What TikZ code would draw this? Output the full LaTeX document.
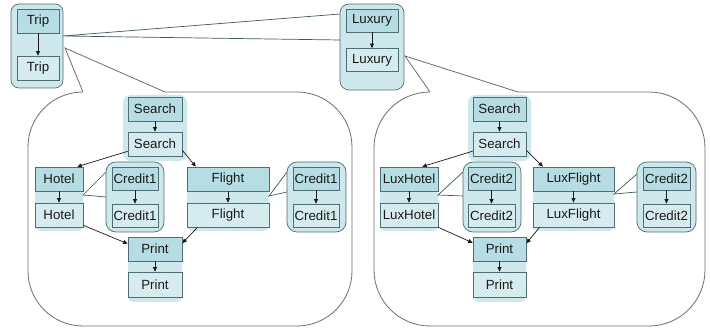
\documentclass[tikz,border=0pt]{standalone}
\usepackage{fontspec}
\setmainfont{Liberation Sans}
\usetikzlibrary{arrows.meta,patterns}

\definecolor{topfill}{HTML}{B6DDE3}
\definecolor{lowfill}{HTML}{E2F2F5}
\definecolor{grpfill}{HTML}{D6EDF1}
\definecolor{hatch}{HTML}{BEDFE5}
\definecolor{boxline}{HTML}{4F6E73}
\definecolor{bigline}{HTML}{6E6E6E}
\definecolor{ink}{HTML}{1A1A1A}

% pointer of a large callout: white wedge that opens the border, then its two sides
% #1 tip, #2 and #3 the two ends on the top edge
\newcommand\bigpointer[3]{%
  \path[fill=white] (#1) -- (#2) -- ([shift={(0,2)}]#2) -- ([shift={(0,2)}]#3) -- (#3) -- cycle;
  \draw[ptrline] (#2) -- (#1) -- (#3);
}

\begin{document}
\begin{tikzpicture}[x=1pt,y=-1pt,
  every node/.style={font=\fontsize{13.3}{15}\selectfont, text=ink, inner sep=0pt},
  sz/.style 2 args={minimum width=#1pt, minimum height=#2pt},
  topbox/.style={draw=boxline, line width=0.7pt, fill=topfill},
  lowbox/.style={draw=boxline, line width=0.7pt, preaction={fill=lowfill},
                 pattern=north east lines, pattern color=hatch},
  shade/.style={preaction={fill=grpfill}, pattern=north east lines, pattern color=hatch},
  grp/.style={shade, draw=boxline, line width=0.7pt, rounded corners=#1},
  bigbox/.style={draw=bigline, line width=0.8pt, fill=white, rounded corners=#1},
  ptrline/.style={draw=bigline, line width=0.8pt},
  thinptr/.style={draw=boxline!80!black, line width=0.7pt},
  arr/.style={-{Triangle[length=4.5pt,width=4pt]}, line width=0.7pt, draw=ink},
]
\useasboundingbox (0,0) rectangle (710,331);

% ---- the two expanded workflows ----
\draw[bigbox=55pt] (28,92) rectangle (352,326);
\bigpointer{65,48}{83,92}{165,92}
\draw[bigbox=56pt] (374,92) rectangle (705,326);
\bigpointer{405,56}{430,92}{518,92}

% ---- Luxury refines Trip ----
\draw[thinptr] (340,14) -- (63,36) -- (340,40);
\draw[grp=9pt] (340,4) rectangle (404,90);
\draw[grp=8pt] (11,4) rectangle (63,88);

\node[topbox, sz={42}{24}] (trA) at (38,21) {Trip};
\node[lowbox, sz={42}{24}] (trB) at (38,68) {Trip};
\draw[arr] (trA) -- (trB);

\node[topbox, sz={52}{23}] (lxA) at (372,20.5) {Luxury};
\node[lowbox, sz={52}{23}] (lxB) at (372,60) {Luxury};
\draw[arr] (lxA) -- (lxB);

% ---- left workflow: shaded groups ----
\path[shade, rounded corners=8pt] (123,95) rectangle (187,161);
\path[shade, rounded corners=6pt] (35,179) rectangle (83,231);
\path[shade, rounded corners=6pt] (187,179) rectangle (269,231);
\path[shade, rounded corners=6pt] (128,249) rectangle (182,302);
\draw[thinptr] (106,172) -- (83,195) -- (106,197);
\draw[grp=10pt] (106,162) rectangle (164,232);
\draw[thinptr] (287,172) -- (269,196) -- (287,192);
\draw[grp=10pt] (287,162) rectangle (346,232);

\node[topbox, sz={54}{24}] (sLa) at (155,109) {Search};
\node[lowbox, sz={54}{24}] (sLb) at (155,144) {Search};
\node[topbox, sz={48}{24}] (hLa) at (59,179) {Hotel};
\node[lowbox, sz={48}{24}] (hLb) at (59,215) {Hotel};
\node[topbox, sz={46}{23}] (cLa) at (135,178.5) {Credit1};
\node[lowbox, sz={46}{23}] (cLb) at (135,215.5) {Credit1};
\node[topbox, sz={82}{24}] (fLa) at (228,179) {Flight};
\node[lowbox, sz={82}{24}] (fLb) at (228,215) {Flight};
\node[topbox, sz={46}{23}] (gLa) at (316,178.5) {Credit1};
\node[lowbox, sz={46}{23}] (gLb) at (316,215.5) {Credit1};
\node[topbox, sz={54}{24}] (pLa) at (155,249) {Print};
\node[lowbox, sz={54}{25}] (pLb) at (155,284.5) {Print};

\foreach \a/\b in {sLa/sLb, hLa/hLb, cLa/cLb, fLa/fLb, gLa/gLb, pLa/pLb}
  \draw[arr] (\a) -- (\b);
\draw[arr] (sLb.195) -- (hLa.34);
\draw[arr] (sLb.347) -- (fLa.159);
\draw[arr] (hLb.337) -- (pLa.169);
\draw[arr] (fLb.202) -- (pLa.12);

% ---- right workflow: shaded groups ----
\path[shade, rounded corners=8pt] (468,95) rectangle (531,161);
\path[shade, rounded corners=6pt] (380,179) rectangle (438,231);
\path[shade, rounded corners=6pt] (533,179) rectangle (614,231);
\path[shade, rounded corners=6pt] (473,249) rectangle (526,302);
\draw[thinptr] (463,172) -- (438,195) -- (463,196);
\draw[grp=10pt] (463,162) rectangle (521,232);
\draw[thinptr] (637,174) -- (614,194) -- (637,192);
\draw[grp=10pt] (637,162) rectangle (696,232);

\node[topbox, sz={53}{24}] (sRa) at (499.5,109) {Search};
\node[lowbox, sz={53}{24}] (sRb) at (499.5,144) {Search};
\node[topbox, sz={58}{24}] (hRa) at (409,179) {LuxHotel};
\node[lowbox, sz={58}{24}] (hRb) at (409,215) {LuxHotel};
\node[topbox, sz={47}{23}] (cRa) at (491.5,178.5) {Credit2};
\node[lowbox, sz={47}{23}] (cRb) at (491.5,215.5) {Credit2};
\node[topbox, sz={81}{24}] (fRa) at (573.5,179) {LuxFlight};
\node[lowbox, sz={81}{24}] (fRb) at (573.5,215) {LuxFlight};
\node[topbox, sz={47}{23}] (gRa) at (666.5,178.5) {Credit2};
\node[lowbox, sz={47}{23}] (gRb) at (666.5,215.5) {Credit2};
\node[topbox, sz={53}{24}] (pRa) at (499.5,249) {Print};
\node[lowbox, sz={53}{25}] (pRb) at (499.5,284.5) {Print};

\foreach \a/\b in {sRa/sRb, hRa/hRb, cRa/cRb, fRa/fRb, gRa/gRb, pRa/pRb}
  \draw[arr] (\a) -- (\b);
\draw[arr] (sRb.195) -- (hRa.43);
\draw[arr] (sRb.347) -- (fRa.158);
\draw[arr] (hRb.south east) -- (pRa.167);
\draw[arr] (fRb.200) -- (pRa.12);
\end{tikzpicture}
\end{document}
